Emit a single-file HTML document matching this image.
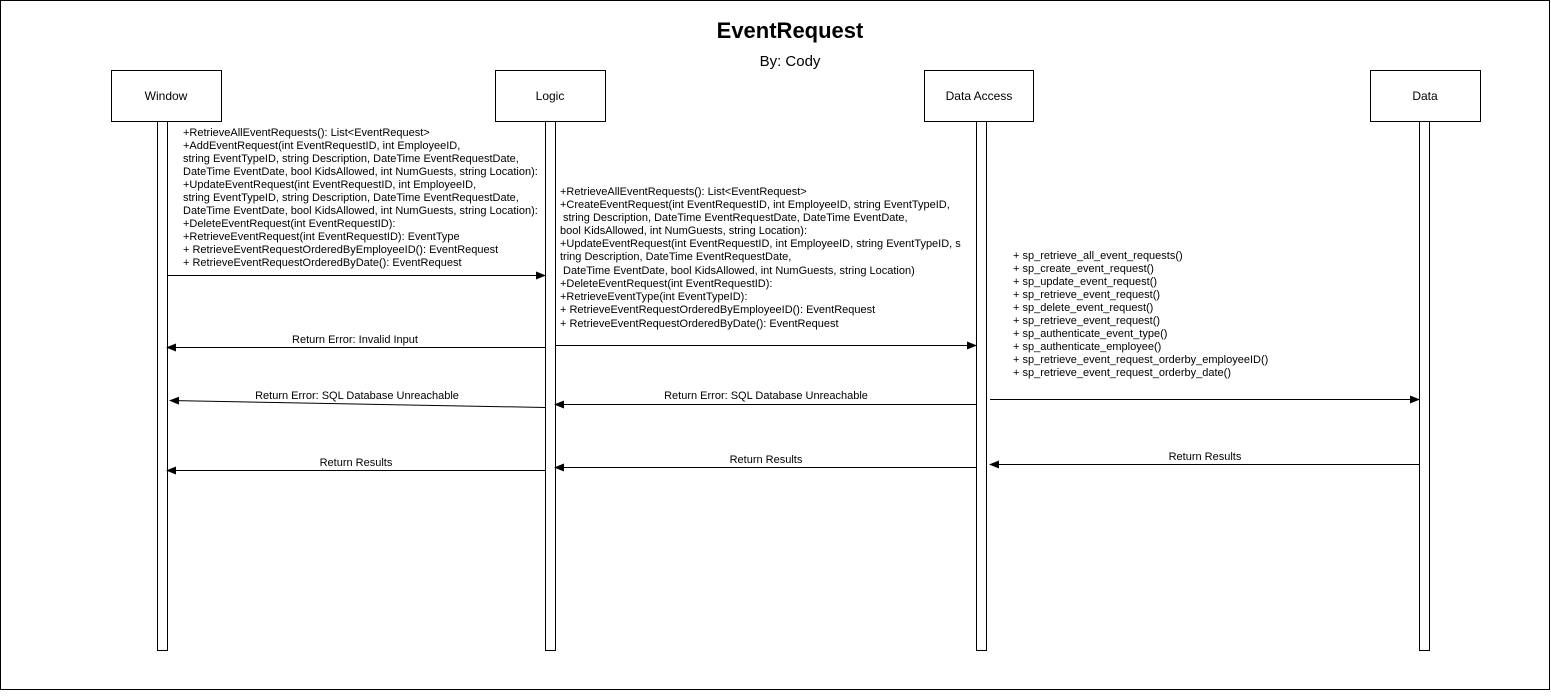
<!DOCTYPE html>
<html><head><style>
body{margin:0;background:#fff;}
svg text{font-family:"Liberation Sans",Arial,sans-serif;font-size:11px;fill:#000;}
</style></head><body>
<svg width="1551" height="691" xmlns="http://www.w3.org/2000/svg">
<defs><marker id="a" markerWidth="10" markerHeight="8" refX="9" refY="4" orient="auto" markerUnits="userSpaceOnUse"><path d="M0,0 L10,4 L0,8 z" fill="#000"/></marker></defs>
<rect x="0.5" y="0.5" width="1549" height="689" fill="#fff" stroke="#000"/>
<text x="790" y="38" text-anchor="middle" style="font-size:22px;font-weight:bold">EventRequest</text>
<text x="790" y="66" text-anchor="middle" style="font-size:15px">By: Cody</text>
<g fill="#fff" stroke="#000">
<rect x="111.5" y="70.5" width="110" height="51"/>
<rect x="495.5" y="70.5" width="110" height="51"/>
<rect x="924.5" y="70.5" width="109" height="51"/>
<rect x="1370.5" y="70.5" width="110" height="51"/>
<rect x="157.5" y="121.5" width="10" height="529"/>
<rect x="545.5" y="121.5" width="10" height="529"/>
<rect x="976.5" y="121.5" width="10" height="529"/>
<rect x="1419.5" y="121.5" width="10" height="529"/>
</g>
<g text-anchor="middle">
<text x="166" y="100" style="font-size:12px">Window</text>
<text x="550" y="100" style="font-size:12px">Logic</text>
<text x="979" y="100" style="font-size:12px">Data Access</text>
<text x="1425" y="100" style="font-size:12px">Data</text>
</g>
<g>
<text x="183" y="136">+RetrieveAllEventRequests(): List&lt;EventRequest&gt;</text>
<text x="183" y="149">+AddEventRequest(int EventRequestID, int EmployeeID,</text>
<text x="183" y="162">string EventTypeID, string Description, DateTime EventRequestDate,</text>
<text x="183" y="175">DateTime EventDate, bool KidsAllowed, int NumGuests, string Location):</text>
<text x="183" y="188">+UpdateEventRequest(int EventRequestID, int EmployeeID,</text>
<text x="183" y="201">string EventTypeID, string Description, DateTime EventRequestDate,</text>
<text x="183" y="214">DateTime EventDate, bool KidsAllowed, int NumGuests, string Location):</text>
<text x="183" y="227">+DeleteEventRequest(int EventRequestID):</text>
<text x="183" y="240">+RetrieveEventRequest(int EventRequestID): EventType</text>
<text x="183" y="253">+ RetrieveEventRequestOrderedByEmployeeID(): EventRequest</text>
<text x="183" y="266">+ RetrieveEventRequestOrderedByDate(): EventRequest</text>
</g>
<g>
<text x="560" y="195">+RetrieveAllEventRequests(): List&lt;EventRequest&gt;</text>
<text x="560" y="208">+CreateEventRequest(int EventRequestID, int EmployeeID, string EventTypeID,</text>
<text x="563" y="221">string Description, DateTime EventRequestDate, DateTime EventDate,</text>
<text x="560" y="234">bool KidsAllowed, int NumGuests, string Location):</text>
<text x="560" y="247">+UpdateEventRequest(int EventRequestID, int EmployeeID, string EventTypeID, s</text>
<text x="560" y="260">tring Description, DateTime EventRequestDate,</text>
<text x="563" y="274">DateTime EventDate, bool KidsAllowed, int NumGuests, string Location)</text>
<text x="560" y="287">+DeleteEventRequest(int EventRequestID):</text>
<text x="560" y="300">+RetrieveEventType(int EventTypeID):</text>
<text x="560" y="313">+ RetrieveEventRequestOrderedByEmployeeID(): EventRequest</text>
<text x="560" y="327">+ RetrieveEventRequestOrderedByDate(): EventRequest</text>
</g>
<g>
<text x="1013" y="259">+ sp_retrieve_all_event_requests()</text>
<text x="1013" y="272">+ sp_create_event_request()</text>
<text x="1013" y="285">+ sp_update_event_request()</text>
<text x="1013" y="298">+ sp_retrieve_event_request()</text>
<text x="1013" y="311">+ sp_delete_event_request()</text>
<text x="1013" y="324">+ sp_retrieve_event_request()</text>
<text x="1013" y="337">+ sp_authenticate_event_type()</text>
<text x="1013" y="350">+ sp_authenticate_employee()</text>
<text x="1013" y="363">+ sp_retrieve_event_request_orderby_employeeID()</text>
<text x="1013" y="376">+ sp_retrieve_event_request_orderby_date()</text>
</g>
<g stroke="#000" stroke-width="1" marker-end="url(#a)">
<line x1="167" y1="275.5" x2="545" y2="275.5"/>
<line x1="545" y1="347.5" x2="167" y2="347.5"/>
<line x1="555" y1="345.5" x2="976" y2="345.5"/>
<line x1="545" y1="407.5" x2="170" y2="400.5"/>
<line x1="976" y1="404.5" x2="555" y2="404.5"/>
<line x1="990" y1="399.5" x2="1419" y2="399.5"/>
<line x1="545" y1="470.5" x2="167" y2="470.5"/>
<line x1="976" y1="467.5" x2="555" y2="467.5"/>
<line x1="1419" y1="464.5" x2="990" y2="464.5"/>
</g>
<g text-anchor="middle">
<text x="355" y="343">Return Error: Invalid Input</text>
<text x="357" y="399">Return Error: SQL Database Unreachable</text>
<text x="766" y="399">Return Error: SQL Database Unreachable</text>
<text x="356" y="466">Return Results</text>
<text x="766" y="463">Return Results</text>
<text x="1205" y="460">Return Results</text>
</g>
</svg>
</body></html>
